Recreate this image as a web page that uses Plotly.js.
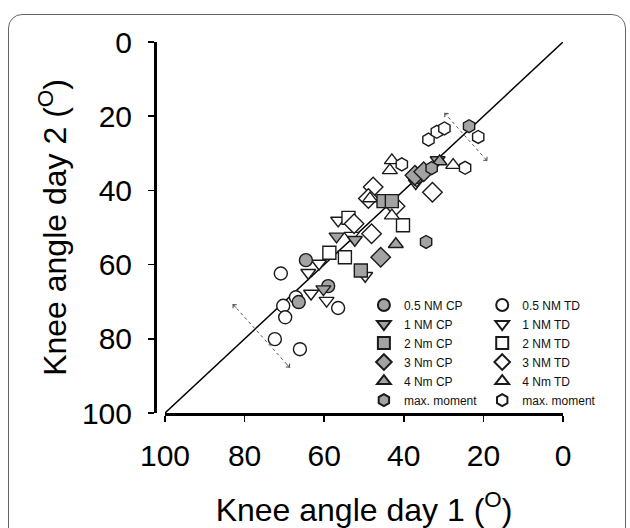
<!DOCTYPE html>
<html>
<head>
<meta charset="utf-8">
<script src="https://cdn.plot.ly/plotly-3.0.1.min.js"></script>
<style>
  html, body { margin: 0; padding: 0; background: #fff; }
  #wrap { position: relative; width: 630px; height: 528px; overflow: hidden; }
  #chart { position: absolute; left: 0; top: 0; width: 630px; height: 528px; }
  #frame { position: absolute; left: 8px; top: 14px; width: 616px; height: 540px;
           border: 1.5px solid #666; border-radius: 14px; pointer-events: none; }
</style>
</head>
<body>
<div id="wrap"><div id="chart"></div><div id="frame"></div></div>
<script>
// ---- data (knee angle day 1 = x, day 2 = y, degrees) ----
const cp05_x = [64.6, 59.0, 66.4, 36.8];
const cp05_y = [58.8, 65.8, 70.1, 36.4];
const td05_x = [70.9, 70.3, 67.1, 56.5, 69.8, 72.4, 66.1];
const td05_y = [62.4, 71.1, 68.8, 71.7, 74.2, 80.1, 82.8];

const cp1_x = [56.9, 52.3, 60.2, 31.5];
const cp1_y = [52.4, 53.3, 66.6, 31.8];
const td1_x = [64.0, 61.3, 63.3, 59.4, 49.7, 56.5, 53.1, 37.0];
const td1_y = [62.2, 59.7, 67.8, 69.7, 63.0, 48.1, 52.2, 38.0];

const cp2_x = [50.8, 45.1, 43.0];
const cp2_y = [61.6, 42.9, 42.9];
const td2_x = [58.7, 54.8, 53.9, 40.2];
const td2_y = [56.8, 58.0, 47.4, 49.4];

const cp3_x = [45.8, 37.2, 35.0];
const cp3_y = [58.0, 35.9, 35.0];
const td3_x = [47.7, 48.9, 42.2, 32.8, 52.5, 48.1, 36.8];
const td3_y = [39.1, 42.2, 44.3, 40.5, 49.0, 51.7, 36.4];

const cp4_x = [42.0, 31.0];
const cp4_y = [54.5, 32.2];
const td4_x = [43.0, 43.5, 48.5, 43.0, 27.6];
const td4_y = [31.9, 34.6, 42.2, 46.8, 33.2];

const cpmax_x = [23.6, 34.4, 33.0];
const cpmax_y = [22.7, 53.9, 34.0];
const tdmax_x = [33.8, 31.7, 29.8, 21.3, 24.6, 40.5];
const tdmax_y = [26.3, 24.2, 23.3, 25.6, 33.9, 33.0];

// identity line
const identity_x = [100, 0];
const identity_y = [100, 0];

// dashed double-headed arrows
const arrowLow_x = [83.0, 68.6];
const arrowLow_y = [70.6, 87.8];
const arrowHigh_x = [29.8, 19.0];
const arrowHigh_y = [19.1, 32.1];

const tickVals = [0, 20, 40, 60, 80, 100];
const tickText = ['0', '20', '40', '60', '80', '100'];

const cpLabels = ['0.5 NM CP', '1 NM CP', '2 Nm CP', '3 Nm CP', '4 Nm CP', 'max. moment'];
const tdLabels = ['0.5 NM TD', '1 NM TD', '2 NM TD', '3 NM TD', '4 Nm TD', 'max. moment'];
const symbols = ['circle', 'triangle-down', 'square', 'diamond', 'triangle-up', 'hexagon'];
const symSizes = [13, 13, 13, 15, 13, 13];

// ---- build ----
const GRAY = '#a3a3a3';
const EDGE = '#1a1a1a';
const cpData = [[cp05_x, cp05_y], [cp1_x, cp1_y], [cp2_x, cp2_y], [cp3_x, cp3_y], [cp4_x, cp4_y], [cpmax_x, cpmax_y]];
const tdData = [[td05_x, td05_y], [td1_x, td1_y], [td2_x, td2_y], [td3_x, td3_y], [td4_x, td4_y], [tdmax_x, tdmax_y]];

const traces = [];
traces.push({x: identity_x, y: identity_y, mode: 'lines', line: {color: '#000', width: 1.5},
             showlegend: false, hoverinfo: 'skip'});
traces.push({x: arrowLow_x, y: arrowLow_y, mode: 'lines', line: {color: '#555', width: 1, dash: 'dot'},
             showlegend: false, hoverinfo: 'skip'});
traces.push({x: arrowHigh_x, y: arrowHigh_y, mode: 'lines', line: {color: '#555', width: 1, dash: 'dot'},
             showlegend: false, hoverinfo: 'skip'});

for (let i = 0; i < 6; i++) {
  traces.push({x: tdData[i][0], y: tdData[i][1], mode: 'markers', name: tdLabels[i], legend: 'legend2',
    marker: {symbol: symbols[i], size: symSizes[i], color: '#fff', line: {color: EDGE, width: 1.4}}});
}
for (let i = 0; i < 6; i++) {
  traces.push({x: cpData[i][0], y: cpData[i][1], mode: 'markers', name: cpLabels[i], legend: 'legend',
    marker: {symbol: symbols[i], size: symSizes[i], color: GRAY, line: {color: EDGE, width: 1.4}}});
}

function arrowEnd(xs, ys, idx) {
  const o = idx === 0 ? 1 : 0;
  const x = xs[idx], y = ys[idx];
  const ax = x + (xs[o] - x) * 0.08, ay = y + (ys[o] - y) * 0.08;
  return {x: x, y: y, ax: ax, ay: ay, xref: 'x', yref: 'y', axref: 'x', ayref: 'y',
          showarrow: true, arrowhead: 4, arrowsize: 1, arrowwidth: 1, arrowcolor: '#555', text: ''};
}
const annotations = [
  arrowEnd(arrowLow_x, arrowLow_y, 0), arrowEnd(arrowLow_x, arrowLow_y, 1),
  arrowEnd(arrowHigh_x, arrowHigh_y, 0), arrowEnd(arrowHigh_x, arrowHigh_y, 1)
];

const FONT = '"Liberation Sans", Arial, sans-serif';
const legendCommon = {font: {family: FONT, size: 12, color: '#111'}, bgcolor: 'rgba(0,0,0,0)',
  borderwidth: 0, yanchor: 'top', xanchor: 'left', tracegroupgap: 0, itemsizing: 'constant'};

const layout = {
  width: 630, height: 528,
  margin: {l: 155, r: 67, t: 42, b: 115},
  paper_bgcolor: 'rgba(0,0,0,0)', plot_bgcolor: 'rgba(0,0,0,0)',
  showlegend: true,
  font: {family: FONT, color: '#000'},
  xaxis: {
    range: [100, 0], domain: [10 / 408, 1], autorange: false,
    tickvals: tickVals, ticktext: tickText, ticks: 'outside', ticklen: 6, tickwidth: 1.5, tickcolor: '#000',
    showline: true, linewidth: 3, linecolor: '#000', showgrid: false, zeroline: false,
    tickfont: {family: FONT, size: 30}, ticklabelstandoff: 8,
    title: {text: 'Knee angle day 1 (<sup>O</sup>)', font: {family: FONT, size: 32}, standoff: 28}
  },
  yaxis: {
    range: [100, 0], autorange: false, anchor: 'free', position: 0,
    tickvals: tickVals, ticktext: tickText, ticks: 'outside', ticklen: 6, tickwidth: 1.5, tickcolor: '#000',
    showline: true, linewidth: 3, linecolor: '#000', showgrid: false, zeroline: false,
    tickfont: {family: FONT, size: 30}, ticklabelstandoff: 10,
    title: {text: 'Knee angle day 2 (<sup>O</sup>)', font: {family: FONT, size: 32}, standoff: 4}
  },
  legend: Object.assign({x: 0.512, y: 0.33}, legendCommon),
  legend2: Object.assign({x: 0.802, y: 0.33}, legendCommon),
  annotations: annotations
};

Plotly.newPlot('chart', traces, layout, {staticPlot: true, displayModeBar: false});
</script>
</body>
</html>
